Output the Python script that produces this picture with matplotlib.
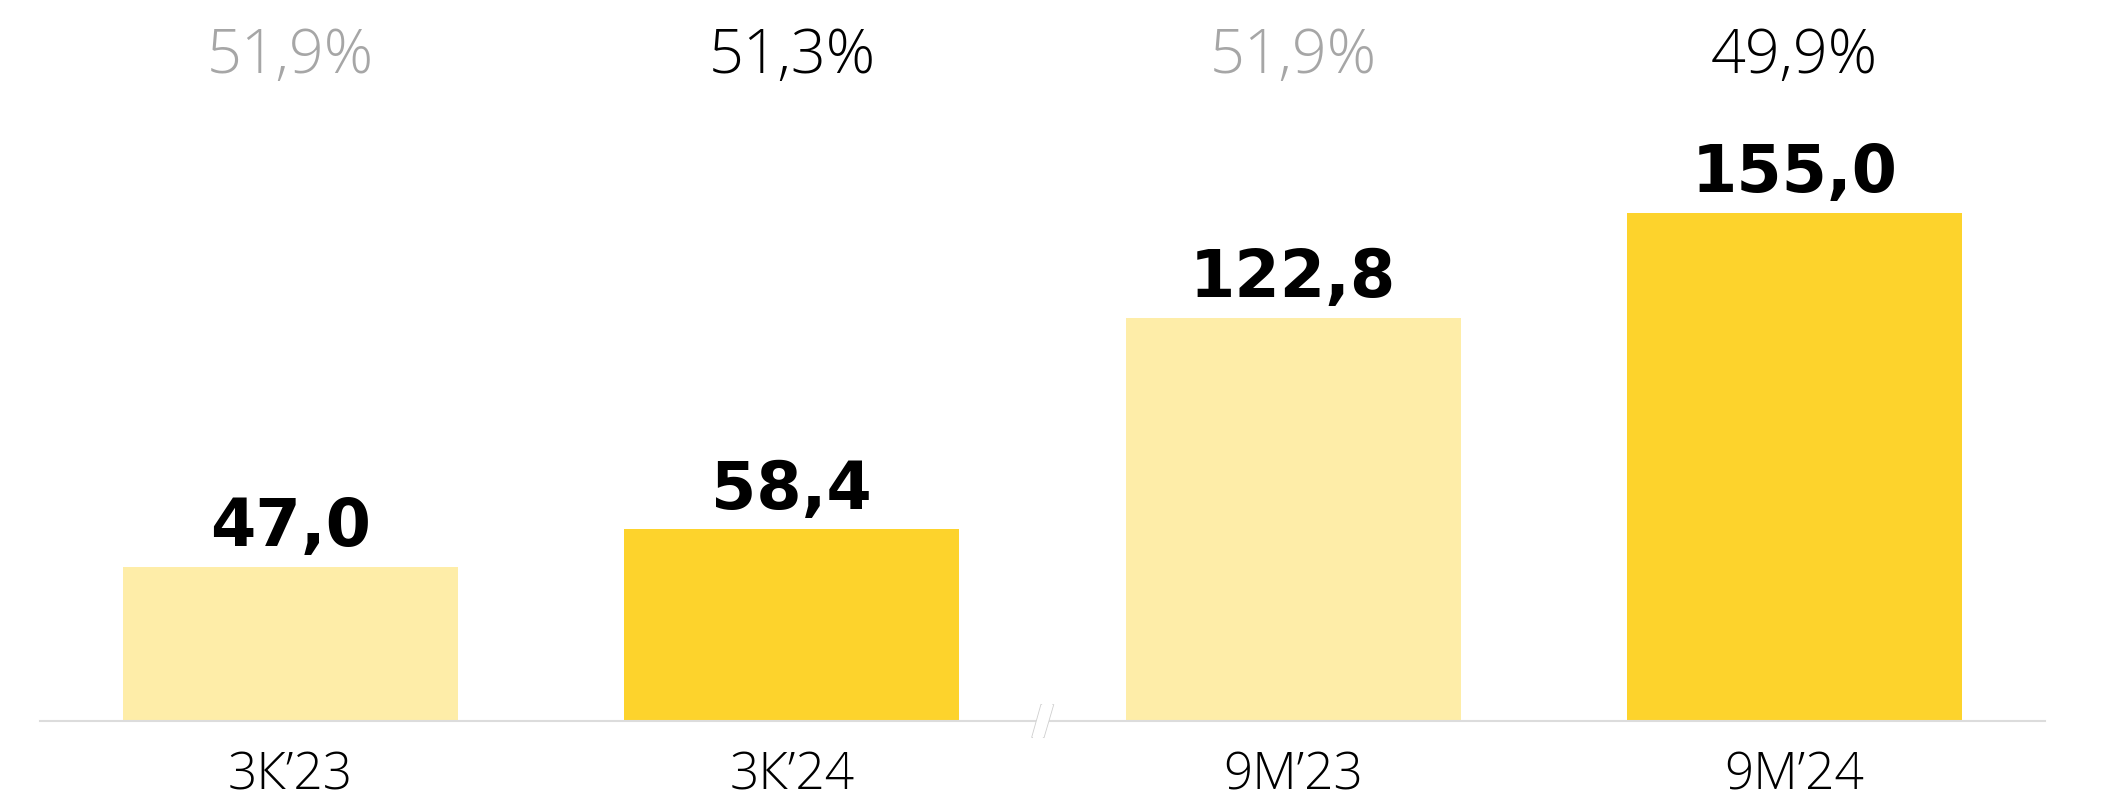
import matplotlib
matplotlib.use("Agg")
import matplotlib.pyplot as plt
import matplotlib.transforms as mtransforms
from matplotlib.patches import Polygon

# данные
categories = ["3К’23", "3К’24", "9М’23", "9М’24"]
values = [47.0, 58.4, 122.8, 155.0]
value_labels = ["47,0", "58,4", "122,8", "155,0"]
margins = ["51,9%", "51,3%", "51,9%", "49,9%"]

light_yellow = "#FEEDA8"
dark_yellow = "#FDD32C"
bar_colors = [light_yellow, dark_yellow, light_yellow, dark_yellow]
margin_colors = ["#A6A6A6", "#000000", "#A6A6A6", "#000000"]

fig = plt.figure(figsize=(21.06, 8.07), dpi=100)
ax = fig.add_axes([40 / 2106, 86 / 807, 2005 / 2106, 656 / 807])

x = range(len(categories))
ax.bar(x, values, width=0.668, color=bar_colors, zorder=2)

ax.set_xlim(-0.5, 3.5)
ax.set_ylim(0, 200)

for s in ["top", "right", "left"]:
    ax.spines[s].set_visible(False)
ax.spines["bottom"].set_color("#DCDCDC")
ax.spines["bottom"].set_linewidth(1.5)
ax.set_yticks([])

ax.set_xticks(list(x))
ax.set_xticklabels(categories, fontsize=37, fontfamily="Open Sans", fontweight="light")
ax.tick_params(axis="x", length=0, pad=21)

# подписи значений над столбиками
for i, v in enumerate(values):
    ax.annotate(value_labels[i], (i, v), xytext=(0, 15), textcoords="offset points",
                ha="center", va="baseline", fontsize=47, fontweight="heavy",
                fontfamily="DejaVu Sans", color="black")

# рентабельность сверху
trans = mtransforms.blended_transform_factory(ax.transData, fig.transFigure)
for i, m in enumerate(margins):
    ax.text(i, 1 - 73 / 807, m, transform=trans, ha="center", va="baseline",
            fontsize=44, fontfamily="Open Sans", fontweight="light",
            color=margin_colors[i], clip_on=False)

# разрыв оси
x0, y0 = ax.transData.transform((1.5, 0))
pts = [(x0 - 10.3, y0 - 16), (x0 - 1.3, y0 + 16), (x0 + 10.7, y0 + 16), (x0 + 1.3, y0 - 16)]
ident = mtransforms.IdentityTransform()
fig.patches.append(Polygon(pts, closed=True, facecolor="white", edgecolor="none",
                           transform=ident, zorder=5))
ax.plot([pts[0][0], pts[1][0]], [pts[0][1], pts[1][1]], color="#CFCFCF", lw=1.2,
        transform=ident, clip_on=False, zorder=6)
ax.plot([pts[3][0], pts[2][0]], [pts[3][1], pts[2][1]], color="#CFCFCF", lw=1.2,
        transform=ident, clip_on=False, zorder=6)

fig.savefig("out.png", dpi=100)
